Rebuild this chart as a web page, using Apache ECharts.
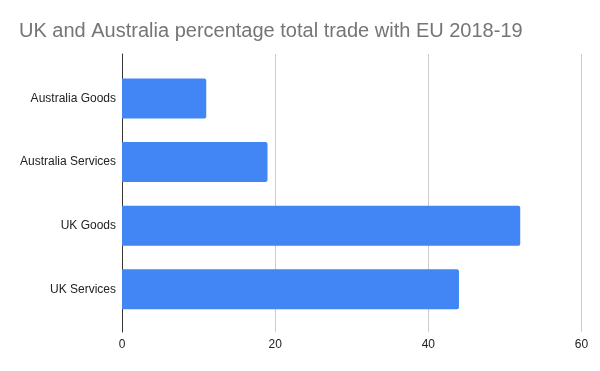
<!DOCTYPE html>
<html>
<head>
<meta charset="utf-8">
<script src="https://cdn.jsdelivr.net/npm/echarts@6/dist/echarts.min.js"></script>
<style>html,body{margin:0;padding:0;background:#fff;}#c{width:600px;height:371px;}</style>
</head>
<body>
<div id="c"></div>
<script>
var titleText = "UK and Australia percentage total trade with EU 2018-19";
var categories = ["Australia Goods", "Australia Services", "UK Goods", "UK Services"];
var values = [11, 19, 52, 44];
var xTicks = [0, 20, 40, 60];

var chart = echarts.init(document.getElementById('c'), null, {renderer: 'canvas'});
var font = 'Arial, "Liberation Sans", sans-serif';
chart.setOption({
  animation: false,
  backgroundColor: '#ffffff',
  title: {
    text: titleText, left: 14, top: 16,
    textStyle: {fontFamily: font, fontSize: 20, fontWeight: 'normal', color: '#757575'}
  },
  grid: [
    {left: 122, right: 18.5, top: 66.7, bottom: 50},
    {left: 122, right: 18.5, top: 54, bottom: 39}
  ],
  xAxis: [
    {gridIndex: 0, type: 'value', min: xTicks[0], max: xTicks[xTicks.length - 1], interval: 20, show: false},
    {gridIndex: 1, type: 'value', min: xTicks[0], max: xTicks[xTicks.length - 1], interval: 20,
      axisLine: {show: false}, axisTick: {show: false},
      axisLabel: {color: '#222', fontFamily: font, fontSize: 12, margin: 7},
      splitLine: {show: true, lineStyle: {color: '#cccccc', width: 1}}}
  ],
  yAxis: [
    {gridIndex: 0, type: 'category', data: categories, inverse: true,
      axisLine: {show: false}, axisTick: {show: false},
      axisLabel: {color: '#222', fontFamily: font, fontSize: 12, margin: 6}},
    {gridIndex: 1, type: 'value', min: 0, max: 1,
      axisLine: {show: true, onZero: false, lineStyle: {color: '#333', width: 1}},
      axisTick: {show: false}, axisLabel: {show: false}, splitLine: {show: false}}
  ],
  series: [{
    type: 'bar', xAxisIndex: 0, yAxisIndex: 0, data: values, barWidth: 40,
    itemStyle: {color: '#4285F4', borderRadius: [0, 2, 2, 0]}
  }]
});
</script>
</body>
</html>
